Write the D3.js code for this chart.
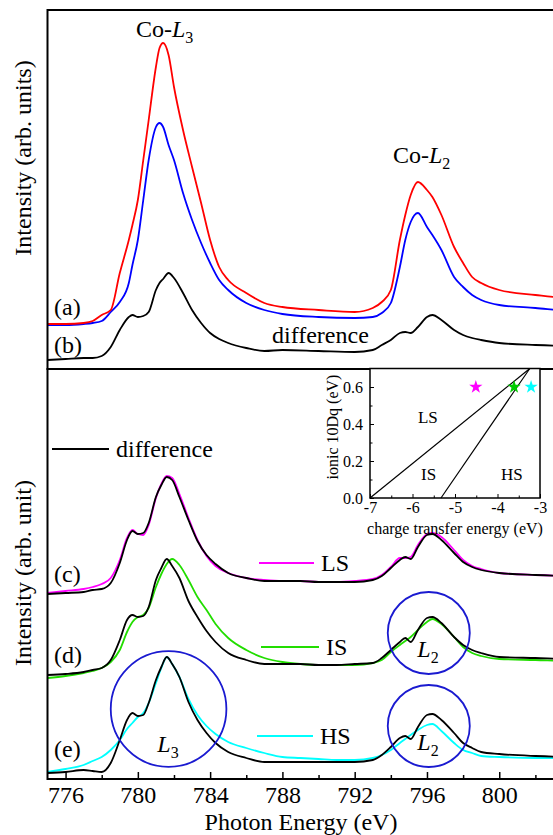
<!DOCTYPE html>
<html>
<head>
<meta charset="utf-8">
<script src="https://cdn.jsdelivr.net/npm/d3@7"></script>
<style>
  body { margin: 0; background: #fff; overflow: hidden; }
  svg { display: block; }
</style>
</head>
<body>
<div id="chart"></div>
<script>
// ---- data (photon energy in eV, intensity in arb. units) ----
const eTop = [775, 776, 777, 777.5, 778, 778.5, 779, 779.5, 779.7, 780, 780.3, 780.6, 781, 781.2, 781.4, 781.7,
  782, 782.5, 783, 783.5, 784, 784.5, 785, 786, 787, 788, 790, 792, 793, 793.5, 794, 794.5, 794.8, 795.1,
  795.5, 796, 796.3, 796.8, 797.5, 798, 798.5, 799, 800, 802, 804, 805];
const specA = [45, 45, 46, 48, 54, 59, 96, 129, 144, 169, 209, 249, 302, 321, 326, 314,
  282, 239, 202, 166, 129, 102, 89, 76, 66, 62, 59, 57, 61, 67, 79, 129, 154, 174,
  187, 179, 172, 154, 122, 106, 92, 86, 79, 74, 71, 71];
const specB = [44, 44, 45, 46, 48, 57, 67, 86, 104, 129, 169, 209, 242, 246, 242, 224,
  209, 176, 149, 126, 106, 89, 79, 66, 59, 55, 52, 51, 52, 56, 66, 102, 129, 147,
  156, 142, 134, 119, 92, 82, 74, 69, 64, 61, 58, 57];
const diffTop = [9, 10, 11, 11, 13, 22, 39, 52, 54, 52, 53, 57, 79, 86, 90, 96,
  91, 76, 59, 46, 36, 30, 26, 21, 18, 19, 18, 17, 19, 24, 29, 36, 37, 36,
  42, 52, 54, 49, 39, 34, 31, 29, 26, 24, 23, 23];

const eBot = [775, 776, 777, 777.5, 778, 778.5, 779, 779.4, 779.7, 780, 780.3, 780.6, 781, 781.3, 781.6, 781.9,
  782.3, 782.8, 783.3, 783.8, 784.3, 785, 786, 787, 788, 789, 790, 791, 792, 793, 793.5, 794, 794.5, 794.8,
  795.1, 795.5, 796, 796.3, 796.8, 797.5, 798, 798.5, 799, 800, 802, 804, 805];
const diffC = [185, 186, 187, 189, 190, 196, 216, 239, 248, 245, 246, 256, 282, 294, 302, 299,
  282, 259, 238, 224, 215, 206, 201, 198, 198, 198, 197, 197, 197, 199, 203, 211, 219, 222,
  220, 232, 244, 245, 239, 226, 217, 212, 209, 206, 204, 203, 203];
const calcLS = [186, 188, 190, 192, 195, 201, 219, 241, 249, 245, 244, 254, 281, 295, 303, 301,
  285, 261, 239, 223, 213, 206, 201, 199, 198, 198, 197, 197, 198, 200, 204, 212, 221, 221,
  222, 234, 245, 246, 242, 229, 219, 213, 210, 206, 204, 203, 203];
const diffD = [104, 105, 107, 109, 111, 119, 139, 159, 164, 162, 163, 172, 199, 211, 220, 213,
  201, 178, 162, 148, 137, 126, 119, 115, 115, 115, 114, 114, 115, 116, 121, 129, 137, 141,
  137, 149, 161, 162, 156, 142, 134, 129, 126, 122, 121, 120, 120];
const calcIS = [101, 103, 106, 108, 111, 117, 129, 147, 157, 162, 164, 171, 192, 205, 215, 220,
  214, 199, 182, 169, 155, 141, 129, 121, 117, 115, 114, 114, 114, 116, 119, 127, 134, 138,
  142, 149, 157, 160, 155, 142, 132, 126, 123, 120, 119, 118, 118];
const diffE = [6, 7, 9, 8, 7, 16, 39, 59, 66, 63, 64, 76, 99, 112, 122, 115,
  102, 77, 59, 46, 36, 27, 21, 17, 17, 17, 17, 17, 17, 19, 24, 32, 41, 43,
  40, 52, 64, 65, 59, 46, 36, 31, 27, 25, 23, 22, 22];
const calcHS = [7, 10, 14, 18, 22, 29, 39, 50, 56, 62, 66, 76, 96, 111, 122, 115,
  102, 80, 64, 53, 45, 37, 31, 26, 22, 21, 20, 19, 19, 21, 24, 29, 36, 40,
  44, 49, 54, 55, 48, 36, 29, 26, 23, 22, 21, 21, 21];

// highlighted regions (centre energy, centre intensity, radius in eV)
const ringE = [781.7, 796.1, 796.1];
const ringI = [70, 146, 53];
const ringR = [3.2, 2.27, 2.27];

// inset: spin-state phase diagram
const insetXTicks = [-7, -6, -5, -4, -3];
const insetYTicks = [0, 0.2, 0.4, 0.6];
const lsIsX = [-7, -3.24], lsIsY = [0, 0.7];
const isHsX = [-5.33, -3.24], isHsY = [0, 0.7];
const starX = [-4.51, -3.61, -3.21];
const starY = [0.6, 0.6, 0.6];
const starColor = ["#ff00ff", "#00cc00", "#00ffff"];

const xTicks = [776, 780, 784, 788, 792, 796, 800];
const xMinor = [778, 782, 786, 790, 794, 798, 802];

// ---- layout ----
const FONT = "'Liberation Serif', 'Times New Roman', Times, serif";
const W = 553, H = 835;
const svg = d3.select("#chart").append("svg").attr("width", W).attr("height", H)
  .attr("font-family", FONT);

const x = d3.scaleLinear().domain([775, 805]).range([47.5, 47.5 + 30 * 18.07]);
const yTop = d3.scaleLinear().domain([0, 359]).range([369, 10]);
const yBot = d3.scaleLinear().domain([0, 410]).range([779, 369]);

const defs = svg.append("defs");
defs.append("clipPath").attr("id", "clipTop").append("rect")
  .attr("x", x(775)).attr("y", yTop(359)).attr("width", x(805) - x(775)).attr("height", yTop(0) - yTop(359));
defs.append("clipPath").attr("id", "clipBot").append("rect")
  .attr("x", x(775)).attr("y", yBot(410)).attr("width", x(805) - x(775)).attr("height", yBot(0) - yBot(410));

function drawLine(g, ys, energies, vals, color) {
  const line = d3.line()
    .x((d, i) => x(energies[i]))
    .y(d => ys(d))
    .curve(d3.curveMonotoneX);
  g.append("path").datum(vals)
    .attr("d", line)
    .attr("fill", "none")
    .attr("stroke", color)
    .attr("stroke-width", 1.8)
    .attr("stroke-linejoin", "round");
}

// top panel
const gTop = svg.append("g").attr("clip-path", "url(#clipTop)");
drawLine(gTop, yTop, eTop, diffTop, "#000");
drawLine(gTop, yTop, eTop, specB, "#0000ff");
drawLine(gTop, yTop, eTop, specA, "#ff0000");

// bottom panel
const gBot = svg.append("g").attr("clip-path", "url(#clipBot)");
drawLine(gBot, yBot, eBot, calcLS, "#ff00ff");
drawLine(gBot, yBot, eBot, diffC, "#000");
drawLine(gBot, yBot, eBot, calcIS, "#22dd00");
drawLine(gBot, yBot, eBot, diffD, "#000");
drawLine(gBot, yBot, eBot, calcHS, "#00ffff");
drawLine(gBot, yBot, eBot, diffE, "#000");

// rings
gBot.selectAll("circle.ring").data(ringE).enter().append("circle")
  .attr("class", "ring")
  .attr("cx", d => x(d))
  .attr("cy", (d, i) => yBot(ringI[i]))
  .attr("r", (d, i) => x(d + ringR[i]) - x(d))
  .attr("fill", "none")
  .attr("stroke", "#1a1ad0")
  .attr("stroke-width", 1.8);

// frames
svg.append("rect").attr("x", x(775)).attr("y", yTop(359)).attr("width", x(805) - x(775)).attr("height", yTop(0) - yTop(359))
  .attr("fill", "none").attr("stroke", "#000").attr("stroke-width", 2);
svg.append("rect").attr("x", x(775)).attr("y", yBot(410)).attr("width", x(805) - x(775)).attr("height", yBot(0) - yBot(410))
  .attr("fill", "none").attr("stroke", "#000").attr("stroke-width", 2);

// bottom x axis (ticks inward)
const xAxis = svg.append("g").attr("transform", `translate(0,${yBot(0)})`)
  .call(d3.axisBottom(x).tickValues(xTicks).tickSize(-7).tickPadding(7).tickFormat(d3.format("d")));
xAxis.attr("font-family", FONT);
xAxis.select(".domain").remove();
xAxis.selectAll("line").attr("stroke-width", 1.5);
xAxis.selectAll("text").attr("font-size", 24).attr("font-family", FONT).attr("fill", "#000");
const xAxisMinor = svg.append("g").attr("transform", `translate(0,${yBot(0)})`)
  .call(d3.axisBottom(x).tickValues(xMinor).tickSize(-4).tickFormat(""));
xAxisMinor.select(".domain").remove();
xAxisMinor.selectAll("line").attr("stroke-width", 1.5);

svg.append("text").attr("x", 301).attr("y", 830).attr("text-anchor", "middle")
  .attr("font-size", 24).attr("font-family", FONT).text("Photon Energy (eV)");

svg.append("text").attr("transform", "translate(31,158) rotate(-90)").attr("text-anchor", "middle")
  .attr("font-size", 24).attr("font-family", FONT).text("Intensity (arb. units)");
svg.append("text").attr("transform", "translate(31,573) rotate(-90)").attr("text-anchor", "middle")
  .attr("font-size", 24).attr("font-family", FONT).text("Intensity (arb. unit)");

// text helpers
function label(xp, yp, txt, size) {
  return svg.append("text").attr("x", xp).attr("y", yp).attr("font-size", size || 24)
    .attr("font-family", FONT).text(txt);
}
function edgeLabel(xp, yp, pre, sub, anchor) {
  const t = svg.append("text").attr("x", xp).attr("y", yp).attr("font-size", 24)
    .attr("font-family", FONT).attr("text-anchor", anchor || "start");
  if (pre) t.append("tspan").text(pre);
  t.append("tspan").attr("font-style", "italic").text("L");
  t.append("tspan").attr("font-size", 16).attr("dy", 6).text(sub);
  return t;
}

edgeLabel(136, 37, "Co-", "3");
edgeLabel(393, 163, "Co-", "2");
label(54, 315, "(a)");
label(54, 353, "(b)");
label(272, 343, "difference");

label(54, 582, "(c)");
label(54, 663, "(d)");
label(54, 757, "(e)");

edgeLabel(168, 752, null, "3", "middle");
edgeLabel(428, 657, null, "2", "middle");
edgeLabel(428, 750, null, "2", "middle");

// legend
const legName = ["difference", "LS", "IS", "HS"];
const legColor = ["#000", "#ff00ff", "#22dd00", "#00ffff"];
const legX1 = [52, 259, 261, 257];
const legX2 = [109, 314, 319, 313];
const legY = [449, 563, 647, 736];
legName.forEach((n, i) => {
  svg.append("line").attr("x1", legX1[i]).attr("x2", legX2[i]).attr("y1", legY[i]).attr("y2", legY[i])
    .attr("stroke", legColor[i]).attr("stroke-width", 2);
  label(legX2[i] + 7, legY[i] + 8, n);
});

// ---- inset ----
const xi = d3.scaleLinear().domain([-7, -3]).range([370, 540]);
const yi = d3.scaleLinear().domain([0, 0.7]).range([498, 368.5]);
const gi = svg.append("g");
gi.append("rect").attr("x", xi(-7)).attr("y", yi(0.7)).attr("width", xi(-3) - xi(-7)).attr("height", yi(0) - yi(0.7))
  .attr("fill", "#fff").attr("stroke", "#000").attr("stroke-width", 1.5);

const lineI = d3.line().x(d => xi(d[0])).y(d => yi(d[1]));
gi.append("path").datum(d3.zip(lsIsX, lsIsY)).attr("d", lineI).attr("stroke", "#000").attr("stroke-width", 1.2).attr("fill", "none");
gi.append("path").datum(d3.zip(isHsX, isHsY)).attr("d", lineI).attr("stroke", "#000").attr("stroke-width", 1.2).attr("fill", "none");

gi.selectAll("path.star").data(starX).enter().append("path")
  .attr("class", "star")
  .attr("transform", (d, i) => `translate(${xi(d)},${yi(starY[i])})`)
  .attr("d", d3.symbol(d3.symbolStar).size(55))
  .attr("fill", (d, i) => starColor[i]);

const ixAxis = gi.append("g").attr("transform", `translate(0,${yi(0)})`)
  .call(d3.axisBottom(xi).tickValues(insetXTicks).tickSize(-4).tickPadding(4).tickFormat(d => String(d)));
const ixMinor = gi.append("g").attr("transform", `translate(0,${yi(0)})`)
  .call(d3.axisBottom(xi).tickValues([-6.5, -5.5, -4.5, -3.5]).tickSize(-2.5).tickFormat(""));
const iyAxis = gi.append("g").attr("transform", `translate(${xi(-7)},0)`)
  .call(d3.axisLeft(yi).tickValues(insetYTicks).tickSize(-4).tickPadding(7).tickFormat(d3.format(".1f")));
const iyMinor = gi.append("g").attr("transform", `translate(${xi(-7)},0)`)
  .call(d3.axisLeft(yi).tickValues([0.1, 0.3, 0.5]).tickSize(-2.5).tickFormat(""));
[ixAxis, ixMinor, iyAxis, iyMinor].forEach(a => {
  a.attr("font-family", FONT);
  a.select(".domain").remove();
  a.selectAll("text").attr("font-size", 16).attr("font-family", FONT).attr("fill", "#000");
});

gi.append("text").attr("x", xi(-5.64)).attr("y", yi(0.44) + 6).attr("text-anchor", "middle").attr("font-size", 17).text("LS");
gi.append("text").attr("x", xi(-5.62)).attr("y", yi(0.13) + 6).attr("text-anchor", "middle").attr("font-size", 17).text("IS");
gi.append("text").attr("x", xi(-3.66)).attr("y", yi(0.13) + 6).attr("text-anchor", "middle").attr("font-size", 17).text("HS");

gi.append("text").attr("x", 455).attr("y", 534).attr("text-anchor", "middle").attr("font-size", 16)
  .text("charge transfer energy (eV)");
gi.append("text").attr("transform", "translate(338,427) rotate(-90)").attr("text-anchor", "middle")
  .attr("font-size", 16).text("ionic 10Dq (eV)");
</script>
</body>
</html>
